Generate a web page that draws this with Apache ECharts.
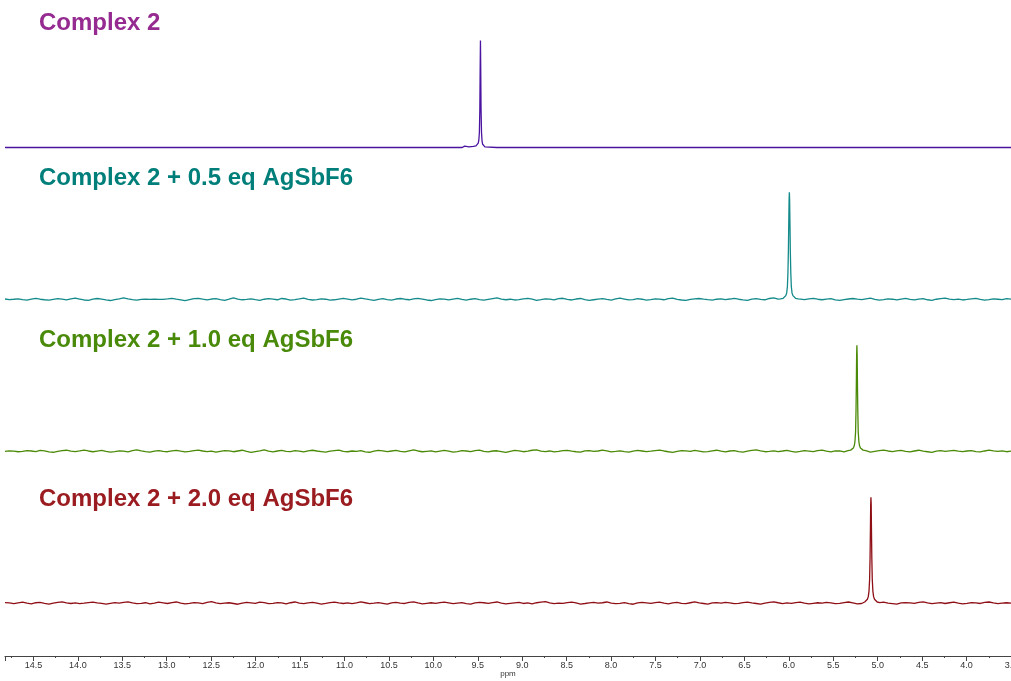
<!DOCTYPE html>
<html>
<head>
<meta charset="utf-8">
<script src="https://cdn.jsdelivr.net/npm/echarts@6/dist/echarts.min.js"></script>
<style>
html,body{margin:0;padding:0;background:#fff;overflow:hidden;}
#chart{width:1011px;height:681px;}
</style>
</head>
<body>
<div id="chart"></div>
<script>
// ---- Data ----
const titles = [
  'Complex 2',
  'Complex 2 + 0.5 eq AgSbF6',
  'Complex 2 + 1.0 eq AgSbF6',
  'Complex 2 + 2.0 eq AgSbF6'
];
const axisMin = 3.5;
const axisMax = 14.82;
const noiseStart = 14.82;
const noiseEnd = 3.5;

// Spectrum 1 (Complex 2): flat baseline, sharp peak at ~9.47 ppm
const s1Noise = [0,0,0,0,0,0,0,0,0,0,0,0];
const s1PeakPpm = [9.665,9.648,9.632,9.60,9.55,9.52,9.505,9.495,9.488,9.482,9.477,9.473,9.470,9.467,9.463,9.458,9.452,9.445,9.435,9.42,9.40,9.285,9.273,9.262];
const s1PeakInt = [0,1.3,0.2,0.5,1.0,1.5,2.5,4,7,14,35,75,100,75,35,14,6,3,1.5,0.6,0.2,0,1.2,0];

// Spectrum 2 (+0.5 eq): peak ~5.99 ppm
const s2Noise = [
0.3,-0.2,0.1,0.5,-0.3,-0.7,0.2,0.9,0.1,-0.4,
-0.8,-0.1,0.6,0.2,-0.5,0.4,1.2,0.3,-0.6,-0.9,
0.1,0.8,0.2,-0.5,-1.1,-0.2,0.5,1.3,0.4,-0.3,
-0.8,0.0,0.1,0.0,0.1,0.0,-0.1,0.4,1.0,0.2,
-0.5,-1.2,-0.3,0.6,0.9,0.1,-0.6,0.3,0.7,-0.2,
-0.9,0.2,1.4,0.3,-0.4,-0.1,0.5,-0.3,-1.0,0.1,
0.6,0.2,-0.4,0.8,0.3,-0.7,-0.2,0.4,1.1,0.0,
-0.6,-0.3,0.5,0.1,-0.8,-0.4,0.3,0.9,0.2,-0.5,
0.1,1.2,0.4,-0.3,-0.9,0.0,0.6,-0.2,-0.7,0.3,
0.8,0.1,-0.4,0.5,1.0,0.2,-0.6,-1.1,-0.2,0.4,
0.2,-0.5,0.3,0.9,-0.1,-0.7,0.1,0.6,-0.3,-0.8,
0.0,0.7,1.3,0.2,-0.4,0.1,-0.6,-0.2,0.5,0.9,
0.1,-0.9,-0.3,0.4,0.2,-0.5,0.7,1.0,-0.1,-0.6,
0.3,0.8,-0.2,-1.0,-0.4,0.2,0.6,-0.1,-0.7,0.4,
1.1,0.3,-0.5,-0.2,0.6,0.1,-0.8,-0.3,0.5,0.2,
-0.4,0.7,1.2,0.0,-0.6,-1.0,-0.1,0.4,0.8,0.2,
-0.3,-0.7,0.1,0.5,-0.2,0.3,0.9,0.1,-0.5,-0.9,
0.2,0.6,-0.1,-0.4,0.8,1.3,0.2,-0.6,-0.2,0.4,
0.0,-0.8,-0.3,0.5,0.9,0.1,-0.4,0.2,0.7,-0.5,
-1.0,-0.2,0.3,0.8,0.2,-0.3,0.4,1.1,0.0,-0.7,
-0.2,0.5,0.1,-0.6,0.3,0.9,-0.1,-0.5,0.2,0.6,
-0.4,-0.9,0.1,0.7,1.2,0.3,-0.3,0.2,-0.6,-0.1,
0.5,0.9,0.0,-0.7,-0.2,0.4,0.1,-0.3,0.6,0.2
];
const s2PeakPpm = [6.094,6.064,6.044,6.034,6.024,6.016,6.010,6.005,6.001,5.997,5.994,5.991,5.987,5.983,5.978,5.972,5.964,5.954,5.944,5.924,5.894];
const s2PeakInt = [0.5,1,2,3.5,6,12,25,45,70,93,100,93,70,45,25,12,6,3.5,2,1,0.5];

// Spectrum 3 (+1.0 eq): peak ~5.23 ppm
const s3Noise = [
-0.2,0.4,0.1,-0.5,-0.1,0.6,0.2,-0.3,0.8,0.3,
-0.6,-1.0,-0.2,0.5,0.9,0.0,-0.4,0.3,1.1,0.2,
-0.5,0.1,0.7,-0.2,-0.8,-0.3,0.4,0.0,-0.6,0.5,
1.2,0.4,-0.3,-0.9,0.1,0.6,-0.1,-0.5,0.3,0.8,
0.0,-0.7,-0.2,0.5,1.0,0.2,-0.4,0.1,-0.8,-0.1,
0.6,0.3,-0.5,0.2,0.9,-0.2,-1.1,-0.3,0.4,1.3,
0.1,-0.6,0.2,0.7,-0.1,-0.4,0.5,0.0,-0.7,0.3,
0.9,0.2,-0.3,-0.8,0.1,0.6,1.0,-0.2,-0.5,0.2,
-0.1,0.5,-0.6,-1.0,0.0,0.8,0.3,-0.4,0.2,0.7,
-0.2,-0.7,0.4,1.2,0.2,-0.5,-0.1,0.3,-0.6,0.1,
0.8,0.0,-0.9,-0.3,0.5,0.2,-0.4,0.6,1.0,-0.1,
-0.6,0.2,0.4,-0.3,-1.1,-0.2,0.7,0.3,-0.5,0.1,
0.9,1.3,0.1,-0.4,0.2,-0.7,-0.2,0.5,0.8,0.0,
-0.5,-0.9,0.3,0.6,-0.1,0.2,1.0,0.3,-0.6,-0.2,
0.4,-0.3,-0.8,0.1,0.7,0.2,-0.4,0.0,0.6,1.1,
0.2,-0.5,-1.0,-0.1,0.5,0.3,-0.2,0.8,0.1,-0.7,
-0.3,0.4,0.9,0.0,-0.6,0.2,0.6,-0.4,-0.9,0.1,
0.7,1.2,0.3,-0.5,-0.1,0.4,-0.3,0.2,0.8,-0.2,
-0.8,-0.2,0.5,0.1,-0.4,0.6,1.0,0.0,-0.6,0.3,
0.2,-0.7,-0.1,0.8,0.4,-0.3,0.1,-0.9,-0.2,0.5,
1.1,0.2,-0.4,0.3,0.7,-0.1,-0.6,0.2,0.9,0.0,
-0.5,-1.0,0.1,0.5,-0.2,0.3,0.8,0.1,-0.4,0.2,
0.6,-0.3,-0.7,0.2,1.0,0.3,-0.2,0.4,-0.5,0.1
];
const s3PeakPpm = [5.334,5.304,5.284,5.274,5.264,5.256,5.249,5.244,5.240,5.237,5.234,5.231,5.228,5.224,5.219,5.212,5.204,5.194,5.184,5.164,5.134];
const s3PeakInt = [0.5,1,2,3,5,9,18,38,65,90,99,90,65,38,18,9,5,3,2,1,0.5];

// Spectrum 4 (+2.0 eq): peak ~5.08 ppm
const s4Noise = [
0.4,0.1,-0.5,0.2,0.8,-0.1,-0.7,0.3,0.6,-0.2,
-0.9,0.0,0.7,1.2,0.2,-0.4,0.1,-0.6,-0.1,0.5,
0.9,0.2,-0.3,-1.0,-0.2,0.4,0.0,0.6,1.1,0.1,
-0.5,-0.2,0.3,-0.7,-0.1,0.8,0.2,-0.4,0.5,1.0,
0.0,-0.8,-0.3,0.4,0.1,-0.5,0.7,1.3,0.2,-0.6,
-0.1,0.3,-0.4,-1.1,0.0,0.6,0.2,-0.3,0.9,0.4,
-0.6,-0.2,0.5,0.1,-0.8,0.3,1.0,0.0,-0.5,0.2,
0.7,-0.1,-0.9,-0.3,0.4,0.8,0.1,-0.4,0.2,-0.6,
0.1,1.1,0.3,-0.5,-0.1,0.5,-0.2,-1.0,0.2,0.6,
0.0,-0.4,0.7,1.2,0.1,-0.7,-0.2,0.3,-0.3,0.5,
0.9,0.2,-0.6,-0.1,0.4,-0.5,-1.0,0.1,0.7,0.3,
-0.2,0.5,1.0,0.0,-0.8,-0.3,0.2,0.6,-0.4,0.1,
-0.7,0.3,0.8,1.3,0.2,-0.5,0.0,-0.3,0.4,0.9,
0.1,-0.9,-0.4,0.2,0.6,-0.1,0.3,1.0,0.0,-0.6,
-0.2,0.4,-0.5,-1.1,0.1,0.7,0.2,-0.3,0.5,0.8,
0.0,-0.7,0.2,0.6,-0.2,-0.5,0.3,1.1,0.1,-0.4,
-0.9,0.1,0.5,-0.1,0.7,0.2,-0.6,-0.2,0.4,0.9,
0.2,-0.4,-1.0,0.0,0.6,1.2,0.3,-0.5,0.1,-0.3,
0.5,0.9,-0.1,-0.7,-0.2,0.3,0.0,0.7,0.2,-0.6,
-0.3,0.4,1.0,0.1,-0.8,-0.4,0.2,0.6,-0.2,0.1,
0.8,0.0,-0.5,-1.0,0.1,0.5,0.2,-0.3,0.7,1.1,
0.2,-0.6,-0.1,0.4,-0.4,0.3,0.9,0.0,-0.7,-0.2,
0.5,0.1,-0.4,0.6,1.0,0.2,-0.5,-0.1,0.3,0.0
];
const s4PeakPpm = [5.176,5.146,5.126,5.116,5.106,5.098,5.091,5.086,5.082,5.079,5.076,5.073,5.070,5.066,5.061,5.054,5.046,5.036,5.026,5.006,4.976];
const s4PeakInt = [0.5,1,2,3.5,6,11,22,42,68,92,99,92,68,42,22,11,6,3.5,2,1,0.5];

// ---- Layout / style ----
const offsets = [475.5, 333.5, 191.5, 49.5];
const lineColors = ['#4a14a0', '#148a8a', '#4b8a08', '#8e0f16'];
const titleColors = ['#952a91', '#007f7a', '#4a8a0b', '#9a1c20'];
const titleTops = [11, 166, 328, 487];

function buildData(noise, pkPpm, pkInt, offset) {
  const n = noise.length;
  const step = (noiseStart - noiseEnd) / (n - 1);
  const lo = Math.min.apply(null, pkPpm), hi = Math.max.apply(null, pkPpm);
  const pts = [];
  for (let i = 0; i < n; i++) {
    const p = noiseStart - i * step;
    if (p > hi || p < lo) pts.push([p, noise[i]]);
  }
  for (let j = 0; j < pkPpm.length; j++) pts.push([pkPpm[j], pkInt[j]]);
  pts.sort((a, b) => b[0] - a[0]);
  return pts.map(d => [d[0], d[1] + offset]);
}

const spectra = [
  [s1Noise, s1PeakPpm, s1PeakInt],
  [s2Noise, s2PeakPpm, s2PeakInt],
  [s3Noise, s3PeakPpm, s3PeakInt],
  [s4Noise, s4PeakPpm, s4PeakInt]
];

const series = spectra.map((s, k) => ({
  type: 'line',
  name: titles[k],
  data: buildData(s[0], s[1], s[2], offsets[k]),
  showSymbol: false,
  symbol: 'none',
  lineStyle: { color: lineColors[k], width: 1.3 },
  silent: true,
  clip: true
}));

const chart = echarts.init(document.getElementById('chart'), null, { renderer: 'canvas' });
chart.setOption({
  animation: false,
  backgroundColor: '#ffffff',
  title: titles.map((t, k) => ({
    text: t,
    left: 39,
    top: titleTops[k],
    padding: 0,
    textStyle: {
      fontFamily: 'Liberation Sans, Arial, sans-serif',
      fontSize: 24,
      fontWeight: 'bold',
      color: titleColors[k]
    }
  })),
  grid: { left: 5, right: 0, top: 40, bottom: 25, containLabel: false, outerBoundsMode: 'none' },
  xAxis: {
    type: 'value',
    inverse: true,
    min: axisMin,
    max: axisMax,
    interval: 0.5,
    name: 'ppm',
    nameLocation: 'middle',
    nameGap: 14,
    nameMoveOverlap: false,
    nameTextStyle: { fontFamily: 'Liberation Sans, Arial, sans-serif', fontSize: 8, color: '#333' },
    splitLine: { show: false },
    axisLine: { lineStyle: { color: '#444', width: 1.2 } },
    axisTick: { show: true, length: 5, lineStyle: { color: '#444', width: 1 } },
    minorTick: { show: true, splitNumber: 2, length: 2, lineStyle: { color: '#444', width: 1 } },
    minorSplitLine: { show: false },
    axisLabel: {
      margin: 5,
      fontFamily: 'Liberation Sans, Arial, sans-serif',
      fontSize: 9,
      color: '#333',
      showMaxLabel: false,
      formatter: v => (Math.abs(v * 2 - Math.round(v * 2)) < 1e-6 ? v.toFixed(1) : '')
    }
  },
  yAxis: {
    type: 'value',
    show: false,
    min: 0,
    max: 576,
    splitLine: { show: false }
  },
  series: series
});
</script>
</body>
</html>
